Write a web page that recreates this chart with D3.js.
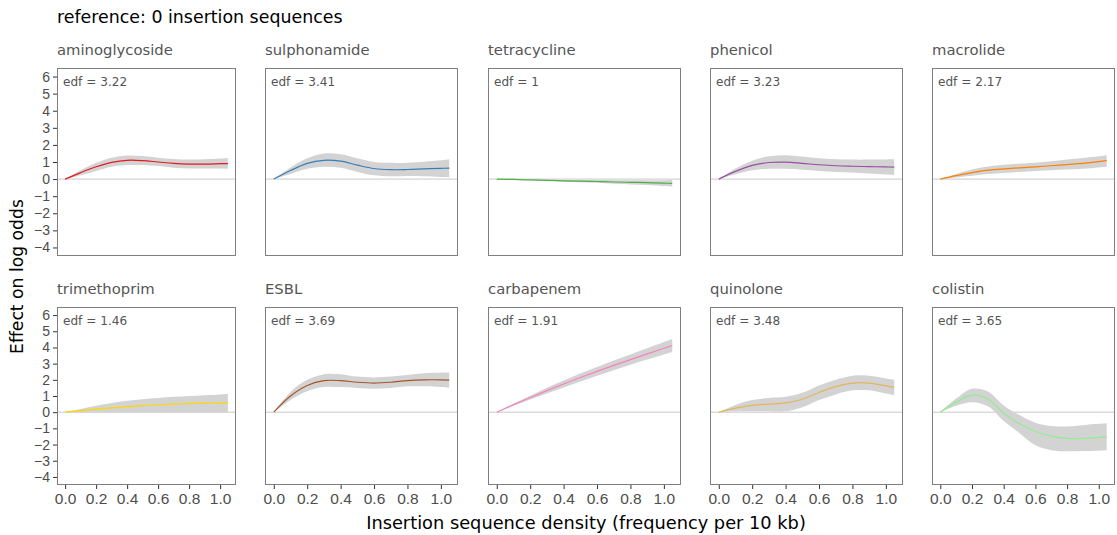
<!DOCTYPE html>
<html>
<head>
<meta charset="utf-8">
<script src="https://cdn.jsdelivr.net/npm/d3@7"></script>
<style>
  body { margin: 0; background: #fff; }
  svg { display: block; font-family: "DejaVu Sans", sans-serif; }
</style>
</head>
<body>
<svg id="chart"></svg>
<script>
// antibiotic classes, one panel each (row by row)
const classes = ["aminoglycoside", "sulphonamide", "tetracycline", "phenicol", "macrolide",
                 "trimethoprim", "ESBL", "carbapenem", "quinolone", "colistin"];
const edfs = ["3.22", "3.41", "1", "3.23", "2.17", "1.46", "3.69", "1.91", "3.48", "3.65"];
const lineColors = ["#e41a1c", "#377eb8", "#4daf4a", "#984ea3", "#ff7f00",
                    "#ffd700", "#a65628", "#f781bf", "#e5b55a", "#90ee90"];

// smooth term evaluated on this grid of IS density
const xGrid = [0, 0.1, 0.2, 0.3, 0.4, 0.5, 0.6, 0.7, 0.8, 0.9, 1.0, 1.05];

const fitVals = [
  [0, 0.38, 0.72, 0.98, 1.1, 1.08, 1.0, 0.92, 0.88, 0.88, 0.9, 0.91],
  [0, 0.5, 0.92, 1.1, 1.05, 0.82, 0.62, 0.55, 0.56, 0.6, 0.63, 0.64],
  [0, -0.02, -0.05, -0.07, -0.1, -0.12, -0.14, -0.17, -0.19, -0.21, -0.24, -0.25],
  [0, 0.45, 0.8, 0.97, 0.99, 0.92, 0.84, 0.78, 0.75, 0.73, 0.71, 0.7],
  [0, 0.2, 0.38, 0.52, 0.6, 0.66, 0.72, 0.78, 0.85, 0.92, 1.02, 1.08],
  [0, 0.1, 0.19, 0.27, 0.34, 0.41, 0.46, 0.5, 0.53, 0.56, 0.58, 0.59],
  [0, 1.0, 1.65, 1.95, 1.95, 1.85, 1.8, 1.85, 1.95, 2.0, 2.0, 1.98],
  [0, 0.46, 0.9, 1.33, 1.74, 2.14, 2.52, 2.89, 3.25, 3.6, 3.95, 4.12],
  [0, 0.25, 0.42, 0.5, 0.57, 0.8, 1.22, 1.58, 1.8, 1.8, 1.63, 1.53],
  [0, 0.62, 1.06, 0.82, -0.06, -0.72, -1.19, -1.48, -1.62, -1.62, -1.56, -1.52]
];
const lowerVals = [
  [0, 0.22, 0.48, 0.72, 0.82, 0.82, 0.76, 0.66, 0.62, 0.62, 0.62, 0.6],
  [0, 0.3, 0.6, 0.72, 0.66, 0.42, 0.22, 0.16, 0.18, 0.16, 0.12, 0.1],
  [0, -0.03, -0.07, -0.1, -0.15, -0.18, -0.22, -0.27, -0.31, -0.35, -0.41, -0.44],
  [0, 0.28, 0.52, 0.6, 0.6, 0.55, 0.48, 0.42, 0.38, 0.33, 0.27, 0.23],
  [0, 0.1, 0.2, 0.3, 0.36, 0.42, 0.48, 0.52, 0.56, 0.6, 0.68, 0.72],
  [0, -0.01, -0.02, -0.02, -0.02, -0.02, -0.02, -0.02, -0.02, -0.02, -0.02, -0.02],
  [0, 0.75, 1.3, 1.55, 1.55, 1.5, 1.45, 1.5, 1.6, 1.6, 1.55, 1.5],
  [0, 0.39, 0.78, 1.15, 1.52, 1.89, 2.25, 2.59, 2.93, 3.25, 3.57, 3.72],
  [0, 0.05, 0.05, 0.05, 0.05, 0.3, 0.75, 1.1, 1.35, 1.35, 1.15, 1.05],
  [0, 0.4, 0.62, 0.36, -0.55, -1.3, -2.05, -2.35, -2.42, -2.4, -2.38, -2.36]
];
const upperVals = [
  [0, 0.52, 0.95, 1.25, 1.38, 1.35, 1.25, 1.18, 1.14, 1.16, 1.2, 1.24],
  [0, 0.68, 1.22, 1.5, 1.46, 1.22, 1.0, 0.95, 0.96, 1.02, 1.1, 1.16],
  [0, -0.01, -0.03, -0.04, -0.05, -0.06, -0.06, -0.07, -0.07, -0.07, -0.07, -0.06],
  [0, 0.62, 1.08, 1.33, 1.4, 1.32, 1.22, 1.16, 1.14, 1.14, 1.15, 1.16],
  [0, 0.3, 0.56, 0.74, 0.84, 0.9, 0.96, 1.04, 1.14, 1.24, 1.34, 1.4],
  [0, 0.2, 0.4, 0.56, 0.7, 0.8, 0.88, 0.95, 1.0, 1.05, 1.1, 1.12],
  [0, 1.25, 2.0, 2.35, 2.35, 2.2, 2.15, 2.2, 2.3, 2.4, 2.45, 2.46],
  [0, 0.53, 1.02, 1.51, 1.96, 2.39, 2.79, 3.19, 3.57, 3.95, 4.33, 4.52],
  [0, 0.45, 0.75, 0.88, 0.95, 1.2, 1.65, 2.0, 2.25, 2.25, 2.08, 2.0],
  [0, 0.84, 1.45, 1.28, 0.42, -0.18, -0.65, -0.85, -0.88, -0.8, -0.72, -0.68]
];

const xTicks = [0, 0.2, 0.4, 0.6, 0.8, 1.0];
const yTicks = [-4, -3, -2, -1, 0, 1, 2, 3, 4, 5, 6];

const width = 1117, height = 535;
// panel boxes (columns / rows)
const cols = [[57, 236], [265, 458], [488, 681], [710, 903], [932, 1115]];
const rows = [[68, 256], [307, 485]];

const svg = d3.select("#chart")
  .attr("width", width)
  .attr("height", height);

svg.append("rect").attr("width", width).attr("height", height).attr("fill", "#fff");

svg.append("text")
  .attr("x", 57).attr("y", 23)
  .attr("font-size", 17.4)
  .attr("fill", "#000")
  .text("reference: 0 insertion sequences");

classes.forEach((cls, i) => {
  const r = Math.floor(i / 5), c = i % 5;
  const [x0, x1] = cols[c];
  const [y0, y1] = rows[r];

  const x = d3.scaleLinear().domain([-0.0525, 1.1025]).range([x0, x1]);
  const y = d3.scaleLinear().domain([-4.5, 6.5]).range([y1, y0]);

  const g = svg.append("g");
  const pts = xGrid.map((v, k) => ({ x: v, fit: fitVals[i][k], lo: lowerVals[i][k], hi: upperVals[i][k] }));

  // strip label
  g.append("text")
    .attr("x", x0).attr("y", y0 - 13)
    .attr("font-size", 14.8)
    .attr("fill", "#555")
    .text(cls);

  // zero reference line
  g.append("line")
    .attr("x1", x0).attr("x2", x1)
    .attr("y1", y(0)).attr("y2", y(0))
    .attr("stroke", "#c8c8c8")
    .attr("stroke-width", 1);

  const curve = d3.curveCatmullRom.alpha(0.5);

  g.append("path")
    .datum(pts)
    .attr("fill", "#d3d3d3")
    .attr("d", d3.area().x(d => x(d.x)).y0(d => y(d.lo)).y1(d => y(d.hi)).curve(curve));

  g.append("path")
    .datum(pts)
    .attr("fill", "none")
    .attr("stroke", lineColors[i])
    .attr("stroke-width", 1.2)
    .attr("d", d3.line().x(d => x(d.x)).y(d => y(d.fit)).curve(curve));

  g.append("rect")
    .attr("x", x0 + 0.5).attr("y", y0 + 0.5)
    .attr("width", x1 - x0 - 1).attr("height", y1 - y0 - 1)
    .attr("fill", "none")
    .attr("stroke", "#7f7f7f")
    .attr("stroke-width", 1);

  g.append("text")
    .attr("x", x0 + 6).attr("y", y0 + 18)
    .attr("font-size", 12.1)
    .attr("fill", "#555")
    .text("edf = " + edfs[i]);

  // y axis only on first column
  if (c === 0) {
    const ya = g.append("g")
      .attr("transform", `translate(${x0},0)`)
      .call(d3.axisLeft(y).tickValues(yTicks).tickSize(4).tickPadding(3));
    ya.select(".domain").remove();
    ya.selectAll("line").attr("stroke", "#333");
    ya.selectAll("text").attr("fill", "#4d4d4d").attr("font-size", 14)
      .attr("font-family", "'Liberation Sans', Arial, sans-serif");
  }
  // x axis only on bottom row
  if (r === 1) {
    const xa = g.append("g")
      .attr("transform", `translate(0,${y1})`)
      .call(d3.axisBottom(x).tickValues(xTicks).tickFormat(d3.format(".1f")).tickSize(4).tickPadding(4));
    xa.select(".domain").remove();
    xa.selectAll("line").attr("stroke", "#333");
    xa.selectAll("text").attr("fill", "#4d4d4d").attr("font-size", 15.5)
      .attr("font-family", "'Liberation Sans', Arial, sans-serif");
  }
});

// axis titles
svg.append("text")
  .attr("x", (cols[0][0] + cols[4][1]) / 2).attr("y", 529)
  .attr("text-anchor", "middle")
  .attr("font-size", 17.8)
  .text("Insertion sequence density (frequency per 10 kb)");

svg.append("text")
  .attr("transform", `translate(23,${(rows[0][0] + rows[1][1]) / 2}) rotate(-90)`)
  .attr("text-anchor", "middle")
  .attr("font-size", 17.2)
  .text("Effect on log odds");
</script>
</body>
</html>
